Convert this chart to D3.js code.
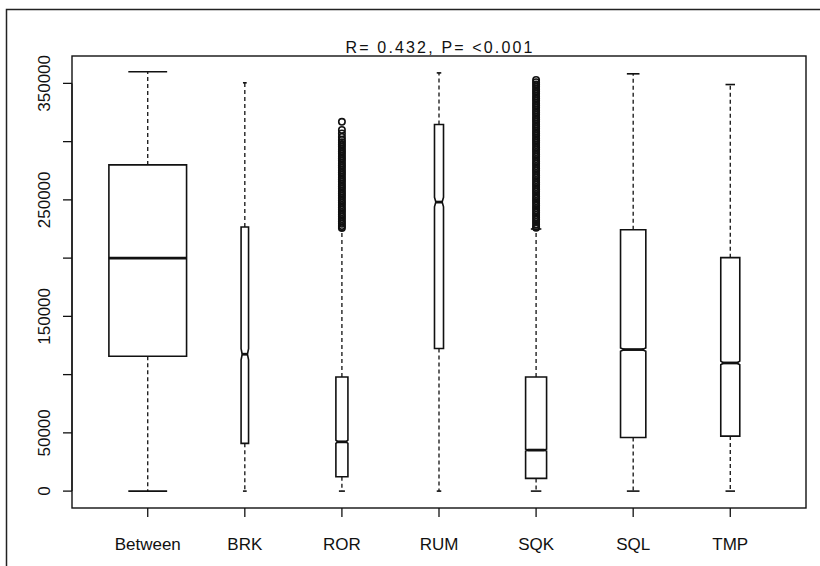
<!DOCTYPE html>
<html><head><meta charset="utf-8">
<script src="https://cdn.jsdelivr.net/npm/d3@7/dist/d3.min.js"></script>
<style>body{margin:0;background:#fff}svg{display:block}text{font-family:"Liberation Sans",Arial,sans-serif;fill:#111}</style>
</head><body><svg id="c" width="820" height="566"></svg>
<script>
const title = "R= 0.432, P= <0.001";
const categories = ["Between","BRK","ROR","RUM","SQK","SQL","TMP"];
const whiskerLow  = [0, 0, 0, 0, 0, 0, 0];
const q1          = [115800, 41000, 12300, 122400, 10900, 46000, 47200];
const median      = [200000, 117500, 42300, 248100, 35200, 121500, 110000];
const q3          = [280000, 226700, 98000, 314700, 98000, 224400, 200400];
const whiskerHigh = [360000, 350500, 224000, 359000, 225000, 358200, 349000];
const sampleSize  = [400000, 3700, 9600, 5400, 29200, 42400, 24000];
const notched     = [false, true, true, true, true, true, true];
const yTicks = [0, 50000, 100000, 150000, 200000, 250000, 300000, 350000];
const yTickLabels = ["0", "50000", "", "150000", "", "250000", "", "350000"];
const outliersROR = [317000, 310000, 307000, 304000, 301500, 299500, 297500, 295500, 293500, 291500, 289500,
  287500, 285500, 283500, 281500, 279500, 277500, 275500, 273500, 271500, 269500, 267500, 265500, 263500,
  261500, 259500, 257500, 255500, 253500, 251500, 249500, 247500, 245500, 243500, 241500, 239500, 237500,
  235500, 233500, 231500, 229500, 227500, 225800];
const outliersSQK = [353000, 351000, 349000, 347000, 345000, 343000, 341000, 339000, 337000, 335000, 333000,
  331000, 329000, 327000, 325000, 323000, 321000, 319000, 317000, 315000, 313000, 311000, 309000, 307000,
  305000, 303000, 301000, 299000, 297000, 295000, 293000, 291000, 289000, 287000, 285000, 283000, 281000,
  279000, 277000, 275000, 273000, 271000, 269000, 267000, 265000, 263000, 261000, 259000, 257000, 255000,
  253000, 251000, 249000, 247000, 245000, 243000, 241000, 239000, 237000, 235000, 233000, 231000, 229000,
  227000, 226000];
const outliers = [[], [], outliersROR, [], outliersSQK, [], []];

const svg = d3.select("#c");
const L = 72, R = 806, T = 56, B = 508;
const x = d3.scaleLinear().domain([0.22, categories.length + 0.78]).range([L, R]);
const y = d3.scaleLinear().domain([-14500, 373500]).range([B, T]);
const maxN = d3.max(sampleSize);
const unit = x(2) - x(1);

// outer figure frame
svg.append("path").attr("d", "M6.5,566 V9.5 H820").attr("fill","none").attr("stroke","#222").attr("stroke-width",1.5);

const g = svg.append("g");
categories.forEach((c, i) => {
  const cx = x(i + 1);
  const w = 0.8 * Math.sqrt(sampleSize[i] / maxN) * unit;
  const hw = w / 2;
  const iqr = q3[i] - q1[i];
  const nh = 1.58 * iqr / Math.sqrt(sampleSize[i]);
  // whiskers
  g.append("line").attr("x1", cx).attr("x2", cx).attr("y1", y(q3[i])).attr("y2", y(whiskerHigh[i]))
    .attr("stroke","#111").attr("stroke-width",1.3).attr("stroke-dasharray","4,3");
  g.append("line").attr("x1", cx).attr("x2", cx).attr("y1", y(q1[i])).attr("y2", y(whiskerLow[i]))
    .attr("stroke","#111").attr("stroke-width",1.3).attr("stroke-dasharray","4,3");
  [whiskerHigh[i], whiskerLow[i]].forEach(v => {
    g.append("line").attr("x1", cx - hw / 2).attr("x2", cx + hw / 2).attr("y1", y(v)).attr("y2", y(v))
      .attr("stroke","#111").attr("stroke-width",1.6);
  });
  // box
  let pts;
  if (notched[i]) {
    const f = 0.7;
    pts = [[cx-hw,q1[i]],[cx+hw,q1[i]],[cx+hw,median[i]-nh],[cx+hw*f,median[i]],[cx+hw,median[i]+nh],
           [cx+hw,q3[i]],[cx-hw,q3[i]],[cx-hw,median[i]+nh],[cx-hw*f,median[i]],[cx-hw,median[i]-nh]];
  } else {
    pts = [[cx-hw,q1[i]],[cx+hw,q1[i]],[cx+hw,q3[i]],[cx-hw,q3[i]]];
  }
  g.append("polygon").attr("points", pts.map(p => [p[0], y(p[1])].join(",")).join(" "))
    .attr("fill","#fff").attr("stroke","#111").attr("stroke-width",1.6);
  const mw = notched[i] ? hw * 0.8 : hw;
  g.append("line").attr("x1", cx - mw).attr("x2", cx + mw).attr("y1", y(median[i])).attr("y2", y(median[i]))
    .attr("stroke","#111").attr("stroke-width",2.8);
  // outliers
  g.selectAll(null).data(outliers[i]).enter().append("circle")
    .attr("cx", cx).attr("cy", d => y(d)).attr("r", 3.2)
    .attr("fill","none").attr("stroke","#111").attr("stroke-width",1.6);
});

// plot frame
svg.append("rect").attr("x", L).attr("y", T).attr("width", R - L).attr("height", B - T)
  .attr("fill","none").attr("stroke","#111").attr("stroke-width",1.4);

// y axis
const yAxisG = svg.append("g");
yAxisG.append("line").attr("x1", L).attr("x2", L).attr("y1", y(0)).attr("y2", y(350000)).attr("stroke","#111").attr("stroke-width",1.2);
yTicks.forEach((t, k) => {
  yAxisG.append("line").attr("x1", L - 9).attr("x2", L).attr("y1", y(t)).attr("y2", y(t)).attr("stroke","#111").attr("stroke-width",1.3);
  if (yTickLabels[k]) {
    yAxisG.append("text").attr("transform", `translate(50,${y(t)}) rotate(-90)`)
      .attr("text-anchor","middle").attr("font-size",17).text(yTickLabels[k]);
  }
});

// x axis
const xAxisG = svg.append("g");
categories.forEach((c, i) => {
  const cx = x(i + 1);
  xAxisG.append("line").attr("x1", cx).attr("x2", cx).attr("y1", B).attr("y2", B + 9).attr("stroke","#111").attr("stroke-width",1.3);
  xAxisG.append("text").attr("x", cx).attr("y", 550).attr("text-anchor","middle").attr("font-size",17).text(c);
});

// title
svg.append("text").attr("x", (L + R) / 2).attr("y", 53).attr("text-anchor","middle")
  .attr("font-size",16).attr("textLength",187).attr("lengthAdjust","spacing").text(title);
</script></body></html>
